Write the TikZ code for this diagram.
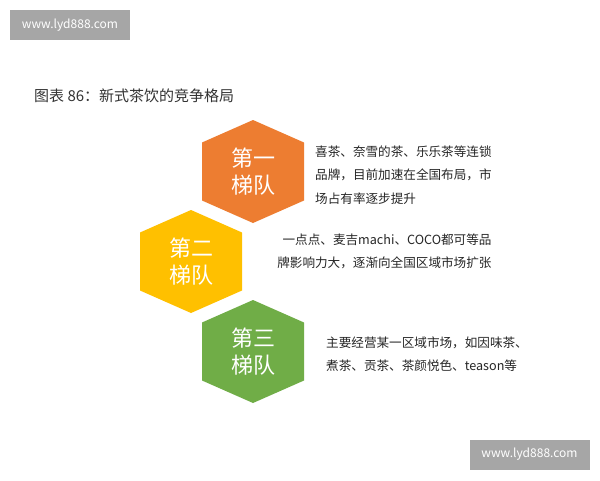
\documentclass[tikz,border=0pt]{standalone}
\usepackage{fontspec}
\setmainfont{Noto Sans CJK SC}
\usepackage{tikz}
\usetikzlibrary{calc, positioning}
\definecolor{tiO}{HTML}{ED7D31}
\definecolor{tiY}{HTML}{FFC000}
\definecolor{tiG}{HTML}{70AD47}
\definecolor{wmgray}{HTML}{A6A6A6}
\newcommand{\hexa}[2]{\fill[#2] ($(#1)+(0,-51.5)$) -- ++(51,22.5) -- ++(0,58) -- ++(-51,22.5) -- ++(-51,-22.5) -- ++(0,-58) -- cycle;}

\begin{document}
\begin{tikzpicture}[x=1pt, y=-1pt,
  lab/.style={text=white, align=center, font=\fontsize{22}{27}\selectfont},
  txt/.style={text=black!85, font=\fontsize{12.6}{23.3}\selectfont, inner sep=0pt},
  wm/.style={fill=wmgray, text=white, minimum width=120pt, minimum height=30pt, inner sep=0pt, font=\fontsize{12}{14}\selectfont}]
\path[use as bounding box, fill=white] (0,0) rectangle (600,480);
\node[wm](W1) at (70,25){www.lyd888.com};
\node[wm](W2) at (529.5,454.5){www.lyd888.com};
\node[anchor=west, text=black!80, font=\fontsize{15}{18}\selectfont, inner sep=0pt](T) at (34,96){图表 86：新式茶饮的竞争格局};
\coordinate(C1) at (253,171.5);
\coordinate(C2) at (191,261.5);
\coordinate(C3) at (253,351.5);
\hexa{C1}{tiO}
\hexa{C2}{tiY}
\hexa{C3}{tiG}
\node[lab](H1) at (C1){第一\\梯队};
\node[lab](H2) at (C2){第二\\梯队};
\node[lab](H3) at (C3){第三\\梯队};
\node[txt, anchor=west, align=left](D1) at (315,175){喜茶、奈雪的茶、乐乐茶等连锁\\品牌，目前加速在全国布局，市\\场占有率逐步提升};
\node[txt, anchor=east, align=right](D2) at (491.7,251){一点点、麦吉machi、COCO都可等品\\牌影响力大，逐渐向全国区域市场扩张};
\node[txt, anchor=west, align=left](D3) at (326,354){主要经营某一区域市场，如因味茶、\\煮茶、贡茶、茶颜悦色、teason等};
\end{tikzpicture}
\end{document}
